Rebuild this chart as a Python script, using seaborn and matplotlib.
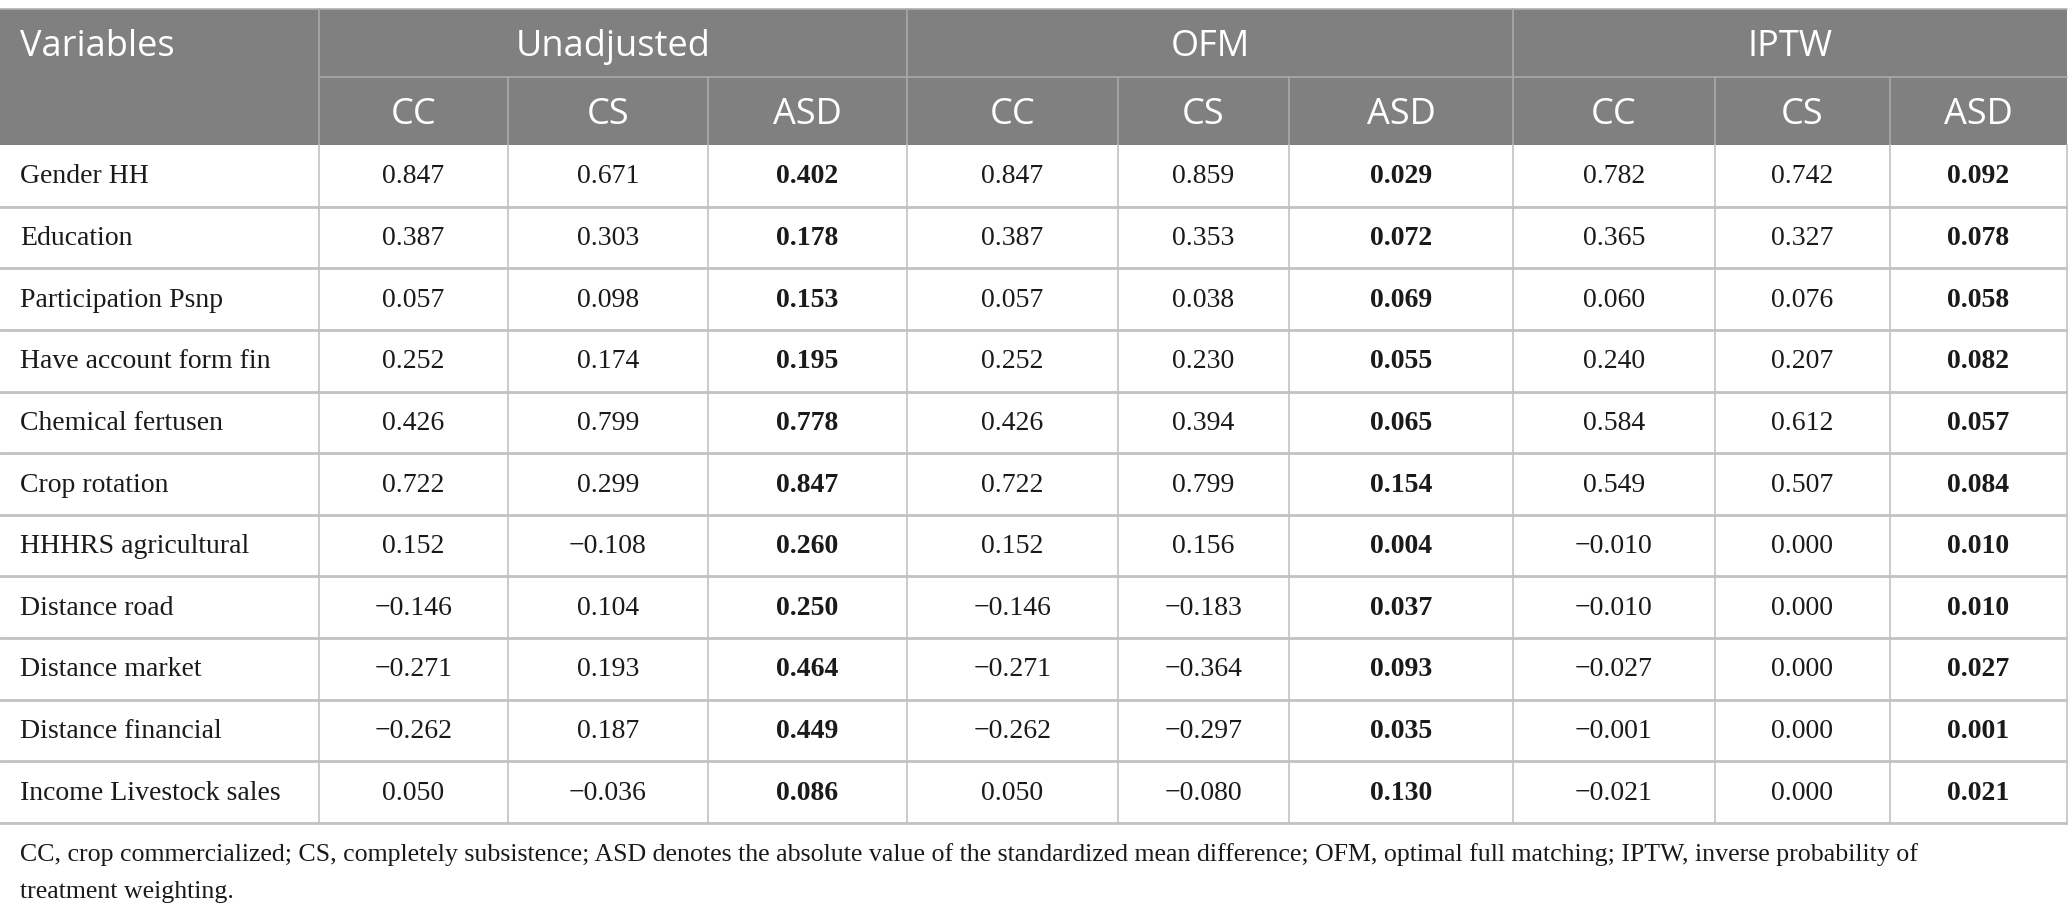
import numpy as np
import pandas as pd
import matplotlib.pyplot as plt
import seaborn as sns

# ---------------------------------------------------------------------------
# Data
# ---------------------------------------------------------------------------
variables = [
    "Gender HH", "Education", "Participation Psnp", "Have account form fin",
    "Chemical fertusen", "Crop rotation", "HHHRS agricultural", "Distance road",
    "Distance market", "Distance financial", "Income Livestock sales",
]
groups = ["Unadjusted", "OFM", "IPTW"]
subcols = ["CC", "CS", "ASD"]

unadj_cc = [0.847, 0.387, 0.057, 0.252, 0.426, 0.722, 0.152, -0.146, -0.271, -0.262, 0.050]
unadj_cs = [0.671, 0.303, 0.098, 0.174, 0.799, 0.299, -0.108, 0.104, 0.193, 0.187, -0.036]
unadj_asd = [0.402, 0.178, 0.153, 0.195, 0.778, 0.847, 0.260, 0.250, 0.464, 0.449, 0.086]
ofm_cc = [0.847, 0.387, 0.057, 0.252, 0.426, 0.722, 0.152, -0.146, -0.271, -0.262, 0.050]
ofm_cs = [0.859, 0.353, 0.038, 0.230, 0.394, 0.799, 0.156, -0.183, -0.364, -0.297, -0.080]
ofm_asd = [0.029, 0.072, 0.069, 0.055, 0.065, 0.154, 0.004, 0.037, 0.093, 0.035, 0.130]
iptw_cc = [0.782, 0.365, 0.060, 0.240, 0.584, 0.549, -0.010, -0.010, -0.027, -0.001, -0.021]
iptw_cs = [0.742, 0.327, 0.076, 0.207, 0.612, 0.507, 0.000, 0.000, 0.000, 0.000, 0.000]
iptw_asd = [0.092, 0.078, 0.058, 0.082, 0.057, 0.084, 0.010, 0.010, 0.027, 0.001, 0.021]

footnote_lines = [
    "CC, crop commercialized; CS, completely subsistence; ASD denotes the absolute value "
    "of the standardized mean difference; OFM, optimal full matching; IPTW, inverse probability of",
    "treatment weighting.",
]

df = pd.DataFrame({
    "Unadjusted CC": unadj_cc, "Unadjusted CS": unadj_cs, "Unadjusted ASD": unadj_asd,
    "OFM CC": ofm_cc, "OFM CS": ofm_cs, "OFM ASD": ofm_asd,
    "IPTW CC": iptw_cc, "IPTW CS": iptw_cs, "IPTW ASD": iptw_asd,
}, index=variables)

# ---------------------------------------------------------------------------
# Layout (pixel space, 2068 x 918)
# ---------------------------------------------------------------------------
W, H = 2068, 918
col_edges = [0, 319, 508, 708, 907, 1118, 1289, 1513, 1715, 1890, 2067]
y_top, y_h1, y_h2, y_bot = 9, 77, 145, 823
row_h = (y_bot - y_h2) / len(variables)

HEAD_BG = "#808080"
HEAD_LINE = "#a9a9a9"
GRID = "#c2c2c2"
SANS = ["Open Sans", "DejaVu Sans"]
SERIF = ["Liberation Serif", "DejaVu Serif"]

sns.set_theme(style="white")
fig = plt.figure(figsize=(W / 100, H / 100), dpi=100)
ax = fig.add_axes([0, 0, 1, 1])
ax.set_xlim(0, W)
ax.set_ylim(H, 0)
ax.axis("off")

# header background
ax.add_patch(plt.Rectangle((0, y_top), col_edges[-1], y_h2 - y_top, color=HEAD_BG, lw=0))
ax.plot([0, col_edges[-1]], [y_top, y_top], color="#b0b0b0", lw=1.2)

# header lines
for gi in range(3):
    x0 = col_edges[1 + gi * 3]
    ax.plot([x0, x0], [y_top, y_h2], color=HEAD_LINE, lw=1.2)
    for k in (1, 2):
        xk = col_edges[1 + gi * 3 + k]
        ax.plot([xk, xk], [y_h1, y_h2], color=HEAD_LINE, lw=1.2)
ax.plot([col_edges[1], col_edges[-1]], [y_h1, y_h1], color=HEAD_LINE, lw=1.2)

# header text
ax.text(20, (y_top + y_h1) / 2 + 4, "Variables", color="white", fontsize=26,
        family=SANS, va="center", ha="left")
for gi, g in enumerate(groups):
    xc = (col_edges[1 + gi * 3] + col_edges[4 + gi * 3]) / 2
    ax.text(xc, (y_top + y_h1) / 2 + 4, g, color="white", fontsize=26,
            family=SANS, va="center", ha="center")
    for k, s in enumerate(subcols):
        i = 1 + gi * 3 + k
        xc = (col_edges[i] + col_edges[i + 1]) / 2
        ax.text(xc, (y_h1 + y_h2) / 2 + 4, s, color="white", fontsize=26,
                family=SANS, va="center", ha="center")

# body grid
for r in range(1, len(variables) + 1):
    y = y_h2 + r * row_h
    ax.plot([0, col_edges[-1]], [y, y], color=GRID, lw=2.0)
for x in col_edges[1:]:
    ax.plot([x, x], [y_h2, y_bot], color=GRID, lw=1.2)

# body text
for r, var in enumerate(variables):
    yc = y_h2 + (r + 0.5) * row_h + 1
    ax.text(20, yc, var, fontsize=20, family=SERIF, va="center", ha="left", color="#1a1a1a")
    for c, col in enumerate(df.columns):
        v = df.loc[var, col]
        txt = f"{v:.3f}".replace("-", "\u2212")
        xc = (col_edges[c + 1] + col_edges[c + 2]) / 2
        ax.text(xc, yc, txt, fontsize=20, family=SERIF, va="center", ha="center",
                color="#1a1a1a", fontweight="bold" if col.endswith("ASD") else "normal")

# footnote
for i, line in enumerate(footnote_lines):
    ax.text(20, 855 + i * 37, line, fontsize=18.6, family=SERIF, va="center", ha="left",
            color="#1a1a1a")

fig.savefig("out.png", dpi=100)
plt.close(fig)
